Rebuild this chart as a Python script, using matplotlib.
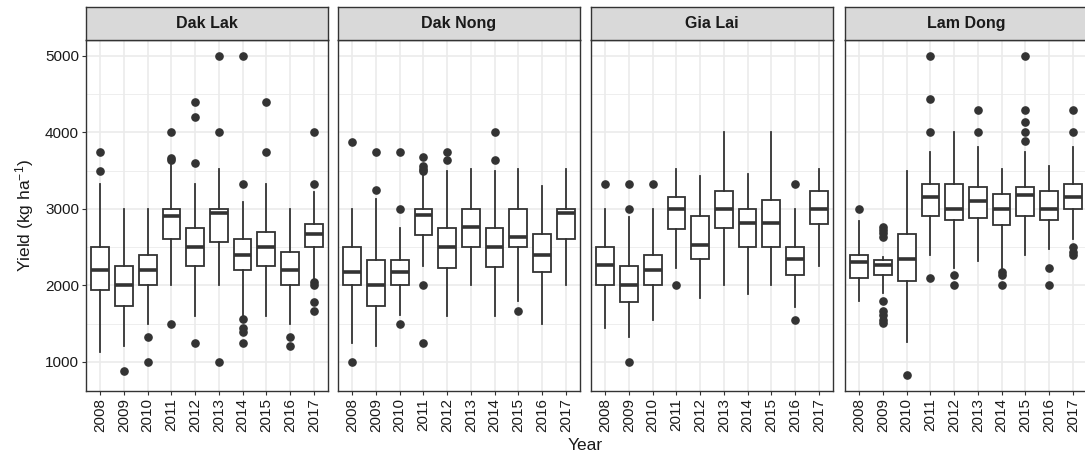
import matplotlib
matplotlib.use("Agg")
import matplotlib.pyplot as plt
from matplotlib.ticker import FixedLocator

plt.rcParams["font.family"] = ["Liberation Sans", "DejaVu Sans"]
plt.rcParams["mathtext.fontset"] = "custom"
plt.rcParams["mathtext.rm"] = "Liberation Sans"
plt.rcParams["mathtext.it"] = "Liberation Sans:italic"
plt.rcParams["mathtext.bf"] = "Liberation Sans:bold"

years = ["2008", "2009", "2010", "2011", "2012", "2013", "2014", "2015", "2016", "2017"]
regions = ["Dak Lak", "Dak Nong", "Gia Lai", "Lam Dong"]

# per region, per year
whis_lo = [
    [1130, 1200, 1500, 2000, 1600, 2000, 1600, 1600, 1500, 2080],
    [1250, 1200, 1610, 2250, 1600, 2000, 1600, 1800, 1500, 2000],
    [1435, 1320, 1550, 2230, 1835, 2000, 1890, 2000, 1720, 2250],
    [1800, 1900, 1260, 2390, 2230, 2320, 2200, 2400, 2470, 2600],
]
q1 = [
    [1940, 1730, 2000, 2600, 2250, 2560, 2200, 2250, 2000, 2500],
    [2000, 1730, 2000, 2660, 2220, 2500, 2240, 2500, 2175, 2600],
    [2000, 1780, 2000, 2730, 2350, 2750, 2500, 2500, 2130, 2800],
    [2100, 2130, 2050, 2900, 2860, 2880, 2790, 2900, 2860, 3000],
]
median = [
    [2200, 2000, 2200, 2900, 2500, 2950, 2400, 2500, 2200, 2670],
    [2180, 2000, 2175, 2920, 2500, 2760, 2500, 2635, 2400, 2940],
    [2260, 2000, 2200, 3000, 2530, 3000, 2810, 2810, 2340, 3000],
    [2310, 2260, 2350, 3150, 3000, 3100, 3000, 3175, 3000, 3150],
]
q3 = [
    [2500, 2250, 2400, 3000, 2750, 3000, 2600, 2700, 2430, 2800],
    [2500, 2330, 2330, 3000, 2750, 3000, 2750, 3000, 2670, 3000],
    [2500, 2250, 2400, 3150, 2900, 3240, 3000, 3110, 2500, 3240],
    [2400, 2330, 2670, 3330, 3330, 3290, 3200, 3290, 3235, 3330],
]
whis_hi = [
    [3330, 3000, 3000, 3575, 3330, 3520, 3090, 3330, 3000, 3225],
    [3000, 3130, 2750, 3500, 3500, 3520, 3500, 3520, 3300, 3520],
    [3000, 2890, 3000, 3520, 3435, 4000, 3460, 4000, 3000, 3520],
    [2835, 2375, 3500, 3750, 4000, 3815, 3520, 3740, 3565, 3810],
]
outliers = [
    [[3750, 3500], [880], [1330, 1000], [4000, 3670, 3640, 1500],
     [4400, 4200, 3600, 1250], [5000, 4000, 1000],
     [5000, 3330, 1556, 1435, 1390, 1250], [4400, 3750], [1330, 1200],
     [4000, 3330, 2040, 2000, 1780, 1660]],
    [[3880, 1000], [3750, 3250], [3750, 3000, 1500],
     [3680, 3565, 3520, 3490, 2000, 1250], [3750, 3635], [], [4000, 3635],
     [1670], [], []],
    [[3330], [3330, 3000, 1000], [3330], [2000], [], [], [], [], [3330, 1550], []],
    [[3000], [2760, 2720, 2690, 2635, 1800, 1670, 1610, 1550, 1505], [826],
     [5000, 4440, 4000, 2100], [2140, 2000], [4290, 4000], [2175, 2130, 2000],
     [5000, 4290, 4130, 4000, 3890], [2220, 2000], [4290, 4000, 2500, 2440, 2400]],
]

W, H = 1085, 458
fig = plt.figure(figsize=(W / 100, H / 100), dpi=100)
fig.patch.set_facecolor("white")

dark = "#333333"
txt = "#1a1a1a"
grid_c = "#EBEBEB"
lefts = [86, 338, 591, 845]
pw = 242
p_bottom = H - 391
p_h = 351
s_h = 33

for r, name in enumerate(regions):
    ax = fig.add_axes([lefts[r] / W, p_bottom / H, pw / W, p_h / H])
    stats = []
    for i, y in enumerate(years):
        stats.append(dict(whislo=whis_lo[r][i], q1=q1[r][i], med=median[r][i],
                          q3=q3[r][i], whishi=whis_hi[r][i], fliers=outliers[r][i],
                          label=y))
    ax.bxp(stats, positions=range(len(years)), widths=0.75, showcaps=False,
           patch_artist=True,
           boxprops=dict(facecolor="white", edgecolor=dark, linewidth=1.3),
           whiskerprops=dict(color=dark, linewidth=1.3),
           medianprops=dict(color=dark, linewidth=2.6, solid_capstyle="butt"),
           flierprops=dict(marker="o", markerfacecolor=dark, markeredgecolor=dark,
                           markersize=5.2, linestyle="none"),
           zorder=3)
    ax.set_xlim(-0.6, len(years) - 0.4)
    ax.set_ylim(617, 5209)
    ax.yaxis.set_major_locator(FixedLocator([1000, 2000, 3000, 4000, 5000]))
    ax.yaxis.set_minor_locator(FixedLocator([1500, 2500, 3500, 4500]))
    ax.set_xticks(range(len(years)))
    ax.set_xticklabels(years, rotation=90, fontsize=11, color=txt)
    ax.grid(True, which="major", color=grid_c, linewidth=1.2, zorder=0)
    ax.grid(True, which="minor", axis="y", color=grid_c, linewidth=0.6, zorder=0)
    ax.set_axisbelow(True)
    ax.tick_params(which="minor", length=0)
    ax.tick_params(which="major", length=3, width=0.8, color=dark, pad=2)
    for sp in ax.spines.values():
        sp.set_color(dark)
        sp.set_linewidth(1.0)
    if r == 0:
        ax.set_yticklabels(["1000", "2000", "3000", "4000", "5000"], fontsize=11,
                           color=txt)
    else:
        ax.tick_params(axis="y", which="major", length=0, labelleft=False)
    # strip
    sax = fig.add_axes([lefts[r] / W, (p_bottom + p_h) / H, pw / W, s_h / H])
    sax.set_facecolor("#D9D9D9")
    sax.set_xticks([])
    sax.set_yticks([])
    for sp in sax.spines.values():
        sp.set_color(dark)
        sp.set_linewidth(1.0)
    sax.text(0.5, 0.5, name, transform=sax.transAxes, ha="center", va="center",
             fontsize=11.5, fontweight="bold", color=txt)

fig.text(25 / W, (p_bottom + p_h / 2) / H, r"Yield (kg ha$^{-1}$)", rotation=90,
         ha="center", va="center", fontsize=12.5, color=txt)
fig.text(585 / W, (H - 446) / H, "Year", ha="center", va="center", fontsize=12.5,
         color=txt)

fig.savefig("out.png", dpi=100, facecolor="white")
